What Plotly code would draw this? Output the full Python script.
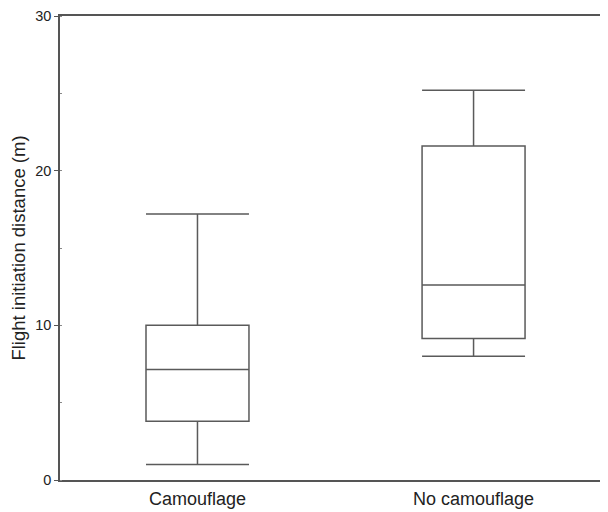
import plotly.graph_objects as go

categories = ["Camouflage", "No camouflage"]
lower_whisker = [1.0, 8.0]
q1 = [3.8, 9.15]
median = [7.15, 12.6]
q3 = [10.0, 21.6]
upper_whisker = [17.2, 25.2]

y_ticks = [0, 10, 20, 30]

fig = go.Figure()
fig.add_trace(go.Box(
    x=[0, 1],
    q1=q1, median=median, q3=q3,
    lowerfence=lower_whisker, upperfence=upper_whisker,
    width=0.373,
    whiskerwidth=1,
    fillcolor="white",
    line=dict(color="#5a5a5a", width=1.5),
    boxpoints=False,
    hoverinfo="skip",
    showlegend=False,
))

fig.update_layout(
    width=592, height=504,
    margin=dict(l=52, r=0, t=8, b=32),
    paper_bgcolor="white", plot_bgcolor="white",
    font=dict(family="Liberation Sans, Arial, sans-serif", color="#222", size=15),
    xaxis=dict(
        range=[-0.498, 1.458],
        tickmode="array", tickvals=[0, 1], ticktext=categories,
        showline=True, linecolor="#555", linewidth=1.5, mirror=True,
        ticks="", showgrid=False, zeroline=False,
        tickfont=dict(size=18), ticklabelstandoff=2, automargin=False,
    ),
    yaxis=dict(
        range=[0, 30],
        tickmode="array", tickvals=y_ticks,
        showline=True, linecolor="#555", linewidth=1.5,
        ticks="outside", ticklen=4, tickcolor="#555", tickwidth=1.2,
        minor=dict(dtick=5, ticks="inside", ticklen=2, tickcolor="#888", showgrid=False),
        showgrid=False, zeroline=False, automargin=False,
        title=dict(text="Flight initiation distance (m)", font=dict(size=18.5), standoff=6),
        tickfont=dict(size=14.5),
    ),
)

fig.write_html("out.html")
